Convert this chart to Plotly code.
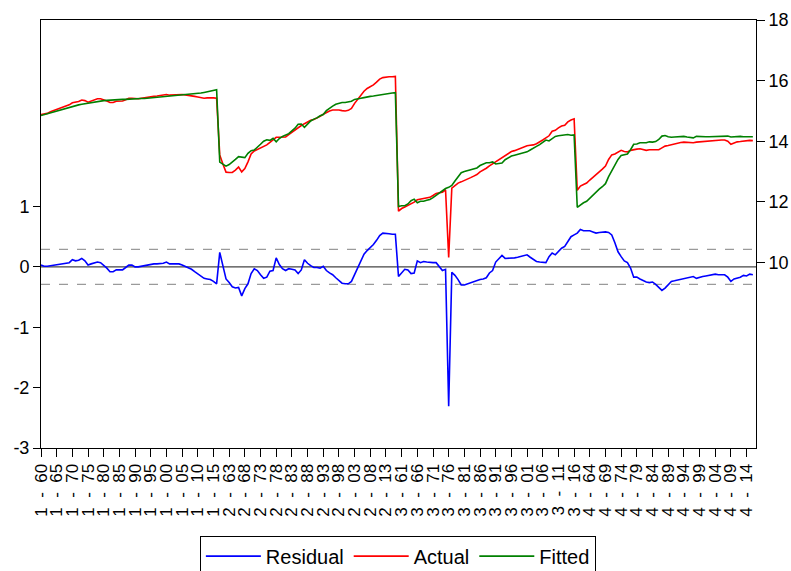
import plotly.graph_objects as go

# ---- observations: 4 cross-sections x years 1960-2016 ----
cross_sections = [1, 2, 3, 4]
years = list(range(1960, 2017))

# ---- Actual (right axis) ----
actual_cs1 = [14.88, 14.89, 14.92, 14.97, 15.01, 15.04, 15.08, 15.12, 15.16, 15.20,
              15.27, 15.28, 15.31, 15.36, 15.34, 15.29, 15.33, 15.37, 15.40, 15.40,
              15.37, 15.33, 15.28, 15.28, 15.32, 15.32, 15.33, 15.37, 15.42, 15.42,
              15.40, 15.40, 15.42, 15.44, 15.45, 15.47, 15.48, 15.49, 15.50, 15.51,
              15.54, 15.52, 15.53, 15.54, 15.55, 15.54, 15.53, 15.52, 15.51, 15.48,
              15.46, 15.43, 15.42, 15.43, 15.44, 15.43, 15.42]
actual_cs2 = [13.55, 13.25, 12.98, 12.97, 12.97, 13.05, 13.15, 12.99, 13.10, 13.32,
              13.58, 13.68, 13.73, 13.77, 13.81, 13.88, 13.96, 14.04, 14.13, 14.13,
              14.13, 14.14, 14.22, 14.30, 14.38, 14.45, 14.52, 14.58, 14.64, 14.69,
              14.72, 14.76, 14.82, 14.89, 14.95, 15.00, 15.03, 15.04, 15.03, 15.01,
              15.00, 15.02, 15.08, 15.25, 15.38, 15.52, 15.65, 15.74, 15.80, 15.86,
              15.95, 16.05, 16.10, 16.12, 16.13, 16.13, 16.14]
actual_cs3 = [11.69, 11.78, 11.83, 11.88, 11.93, 11.99, 12.07, 12.09, 12.11, 12.13,
              12.15, 12.21, 12.28, 12.30, 12.32, 12.40, 10.17, 12.45, 12.55, 12.62,
              12.66, 12.70, 12.75, 12.80, 12.85, 12.90, 12.99, 13.04, 13.11, 13.19,
              13.26, 13.33, 13.40, 13.47, 13.53, 13.60, 13.66, 13.69, 13.73, 13.78,
              13.82, 13.85, 13.87, 13.88, 13.92, 13.97, 14.04, 14.11, 14.18, 14.33,
              14.36, 14.44, 14.50, 14.53, 14.64, 14.70, 14.74]
actual_cs4 = [12.38, 12.52, 12.57, 12.62, 12.72, 12.82, 12.90, 12.99, 13.08, 13.18,
              13.40, 13.55, 13.58, 13.65, 13.70, 13.66, 13.65, 13.70, 13.73, 13.74,
              13.75, 13.72, 13.70, 13.72, 13.72, 13.70, 13.72, 13.78, 13.84, 13.86,
              13.89, 13.91, 13.93, 13.96, 13.97, 13.96, 13.95, 13.95, 13.97, 13.98,
              13.98, 14.00, 14.01, 14.02, 14.04, 14.04, 14.04, 14.04, 14.00, 13.90,
              13.95, 13.98, 13.99, 14.01, 14.01, 14.03, 14.02]

# ---- Fitted (right axis) ----
fitted_cs1 = [14.85, 14.88, 14.91, 14.95, 14.98, 15.01, 15.04, 15.07, 15.10, 15.13,
              15.15, 15.18, 15.20, 15.22, 15.24, 15.26, 15.28, 15.30, 15.32, 15.33,
              15.34, 15.35, 15.36, 15.36, 15.37, 15.37, 15.38, 15.38, 15.39, 15.39,
              15.40, 15.40, 15.41, 15.41, 15.42, 15.43, 15.43, 15.44, 15.45, 15.45,
              15.46, 15.47, 15.48, 15.49, 15.50, 15.51, 15.52, 15.54, 15.55, 15.56,
              15.58, 15.59, 15.61, 15.63, 15.65, 15.67, 15.70]
fitted_cs2 = [13.31, 13.25, 13.18, 13.23, 13.30, 13.40, 13.49, 13.47, 13.46, 13.60,
              13.69, 13.71, 13.79, 13.90, 14.00, 14.05, 14.03, 14.10, 13.98, 14.09,
              14.16, 14.20, 14.25, 14.34, 14.43, 14.56, 14.57, 14.46, 14.58, 14.67,
              14.73, 14.77, 14.84, 14.88, 15.01, 15.10, 15.16, 15.22, 15.26, 15.28,
              15.28, 15.30, 15.32, 15.38, 15.41, 15.42, 15.44, 15.47, 15.48, 15.49,
              15.51, 15.53, 15.54, 15.56, 15.58, 15.59, 15.60]
fitted_cs3 = [11.85, 11.87, 11.87, 11.93, 12.04, 12.09, 11.97, 12.02, 12.02, 12.05,
              12.08, 12.14, 12.21, 12.29, 12.38, 12.44, 12.48, 12.54, 12.69, 12.83,
              12.96, 13.00, 13.03, 13.06, 13.09, 13.12, 13.20, 13.24, 13.29, 13.29,
              13.32, 13.25, 13.26, 13.28, 13.39, 13.46, 13.51, 13.54, 13.57, 13.61,
              13.64, 13.65, 13.71, 13.76, 13.83, 13.89, 13.97, 14.04, 14.01, 14.10,
              14.16, 14.18, 14.19, 14.19, 14.22, 14.20, 14.21]
fitted_cs4 = [11.82, 11.90, 11.97, 12.02, 12.12, 12.24, 12.34, 12.42, 12.50, 12.60,
              12.83, 13.02, 13.18, 13.40, 13.53, 13.56, 13.58, 13.72, 13.90, 13.91,
              13.95, 13.95, 13.95, 13.98, 13.97, 13.99, 14.06, 14.17, 14.19, 14.15,
              14.13, 14.14, 14.15, 14.17, 14.16, 14.14, 14.12, 14.11, 14.16, 14.15,
              14.14, 14.15, 14.15, 14.15, 14.16, 14.17, 14.17, 14.17, 14.17, 14.14,
              14.15, 14.17, 14.16, 14.15, 14.16, 14.15, 14.15]

# ---- Residual (left axis) ----
residual_cs1 = [0.03, 0.01, 0.01, 0.02, 0.03, 0.03, 0.04, 0.05, 0.06, 0.07,
                0.12, 0.10, 0.11, 0.14, 0.10, 0.03, 0.05, 0.07, 0.08, 0.07,
                0.03, -0.02, -0.08, -0.08, -0.05, -0.05, -0.05, -0.01, 0.03, 0.03,
                0.00, 0.00, 0.01, 0.03, 0.03, 0.04, 0.05, 0.05, 0.05, 0.06,
                0.08, 0.05, 0.05, 0.05, 0.05, 0.03, 0.01, -0.02, -0.04, -0.08,
                -0.12, -0.16, -0.19, -0.20, -0.21, -0.24, -0.28]
residual_cs2 = [0.24, 0.00, -0.20, -0.26, -0.33, -0.35, -0.34, -0.48, -0.36, -0.28,
                -0.11, -0.03, -0.06, -0.13, -0.19, -0.17, -0.07, -0.06, 0.15, 0.04,
                -0.03, -0.06, -0.03, -0.04, -0.05, -0.11, -0.05, 0.12, 0.06, 0.02,
                -0.01, -0.01, -0.02, 0.01, -0.06, -0.10, -0.13, -0.18, -0.23, -0.27,
                -0.28, -0.28, -0.24, -0.13, -0.03, 0.10, 0.21, 0.27, 0.32, 0.37,
                0.44, 0.52, 0.56, 0.56, 0.55, 0.54, 0.54]
residual_cs3 = [-0.16, -0.09, -0.04, -0.05, -0.11, -0.10, 0.10, 0.07, 0.09, 0.08,
                0.07, 0.07, 0.07, 0.01, -0.06, -0.04, -2.31, -0.09, -0.14, -0.21,
                -0.30, -0.30, -0.28, -0.26, -0.24, -0.22, -0.21, -0.20, -0.18, -0.10,
                -0.06, 0.08, 0.14, 0.19, 0.14, 0.14, 0.15, 0.15, 0.16, 0.17,
                0.18, 0.20, 0.16, 0.12, 0.09, 0.08, 0.07, 0.07, 0.17, 0.23,
                0.20, 0.26, 0.31, 0.34, 0.42, 0.50, 0.53]
residual_cs4 = [0.56, 0.62, 0.60, 0.60, 0.60, 0.58, 0.56, 0.57, 0.58, 0.58,
                0.57, 0.53, 0.40, 0.25, 0.17, 0.10, 0.07, -0.02, -0.17, -0.17,
                -0.20, -0.23, -0.25, -0.26, -0.25, -0.29, -0.34, -0.39, -0.35, -0.29,
                -0.24, -0.23, -0.22, -0.21, -0.19, -0.18, -0.17, -0.16, -0.19, -0.17,
                -0.16, -0.15, -0.14, -0.13, -0.12, -0.13, -0.13, -0.13, -0.17, -0.24,
                -0.20, -0.19, -0.17, -0.14, -0.15, -0.12, -0.13]

se_regression = 0.29   # dashed +/- 1 S.E. band
tick_step = 5
resid_ticks = [-3, -2, -1, 0, 1]
level_ticks = [10, 12, 14, 16, 18]

actual = actual_cs1 + actual_cs2 + actual_cs3 + actual_cs4
fitted = fitted_cs1 + fitted_cs2 + fitted_cs3 + fitted_cs4
residual = residual_cs1 + residual_cs2 + residual_cs3 + residual_cs4

NB = "\u00a0"
obs = [f"{cs}{NB}{NB}-{NB}{NB}{y % 100:02d}" for cs in cross_sections for y in years]

FONT = "Liberation Sans, Arial, sans-serif"

fig = go.Figure()
fig.add_trace(go.Scatter(x=obs, y=residual, name="Residual", mode="lines",
                         line=dict(color="#0000FF", width=1.6), yaxis="y"))
fig.add_trace(go.Scatter(x=obs, y=actual, name="Actual", mode="lines",
                         line=dict(color="#FF0000", width=1.6), yaxis="y2"))
fig.add_trace(go.Scatter(x=obs, y=fitted, name="Fitted", mode="lines",
                         line=dict(color="#008000", width=1.6), yaxis="y2"))

shapes = [
    dict(type="line", xref="paper", x0=0, x1=1, yref="y", y0=0, y1=0,
         line=dict(color="#444444", width=1.3), layer="below"),
    dict(type="line", xref="paper", x0=0, x1=1, yref="y", y0=se_regression, y1=se_regression,
         line=dict(color="#9a9a9a", width=1.2, dash="dash"), layer="below"),
    dict(type="line", xref="paper", x0=0, x1=1, yref="y", y0=-se_regression, y1=-se_regression,
         line=dict(color="#9a9a9a", width=1.2, dash="dash"), layer="below"),
]

fig.update_layout(
    template="none",
    width=791, height=571,
    margin=dict(l=41, r=35, t=20, b=123, pad=0, autoexpand=False),
    paper_bgcolor="white", plot_bgcolor="white",
    font=dict(family=FONT, color="black"),
    shapes=shapes,
    showlegend=True,
    legend=dict(orientation="h", xref="container", yref="container",
                x=0.503, xanchor="center", y=0.062, yanchor="top",
                bordercolor="black", borderwidth=1, bgcolor="white",
                font=dict(family=FONT, size=20, color="black"), itemwidth=55),
    xaxis=dict(type="category", categoryorder="array", categoryarray=obs,
               range=[0, len(obs)], tickmode="array", tickvals=obs[::tick_step],
               tickangle=-90, ticks="outside", ticklen=8, tickcolor="black",
               showline=True, mirror=True, linecolor="black", linewidth=1,
               showgrid=False, zeroline=False, automargin=False,
               tickfont=dict(family=FONT, size=17, color="black")),
    yaxis=dict(range=[-3, 4.09], tickmode="array", tickvals=resid_ticks,
               ticktext=[str(v) for v in resid_ticks],
               ticks="outside", ticklen=7, tickcolor="black",
               showline=True, linecolor="black", linewidth=1,
               showgrid=False, zeroline=False, automargin=False,
               tickfont=dict(family=FONT, size=18, color="black")),
    yaxis2=dict(range=[3.88, 18.0], overlaying="y", side="right", tickmode="array",
                tickvals=level_ticks, ticktext=[str(v) for v in level_ticks],
                ticks="outside", ticklen=8, tickcolor="black",
                showline=True, linecolor="black", linewidth=1,
                showgrid=False, zeroline=False, automargin=False,
                tickfont=dict(family=FONT, size=18, color="black")),
)

fig.write_html("out.html")
